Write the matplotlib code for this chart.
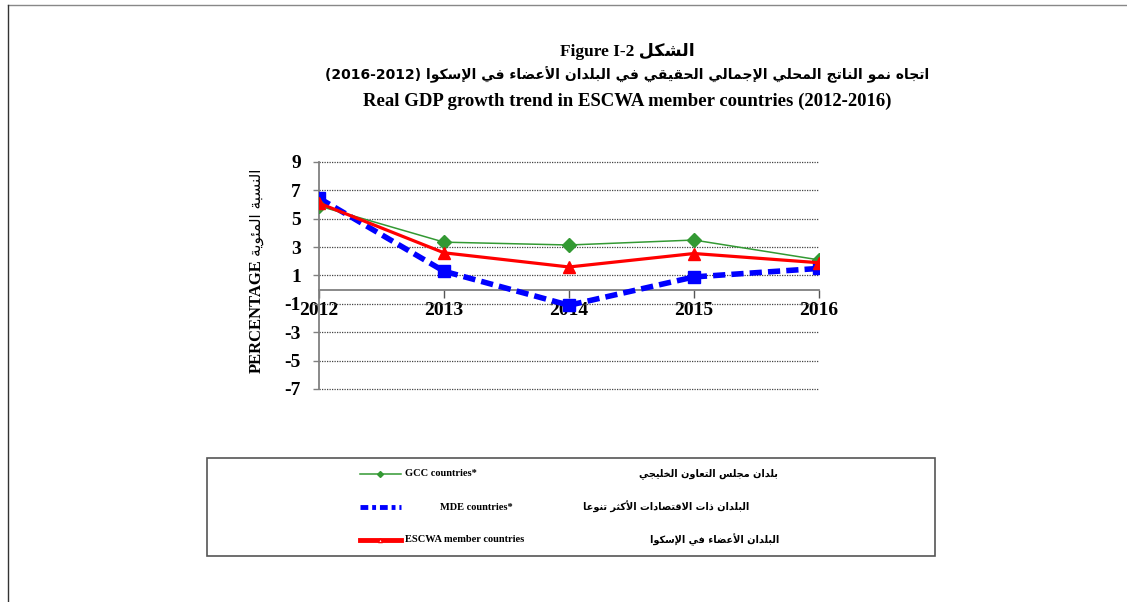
import matplotlib
matplotlib.use("Agg")
import matplotlib.pyplot as plt
from matplotlib.lines import Line2D
from matplotlib.patches import Rectangle

# data
years = [2012, 2013, 2014, 2015, 2016]
gcc = [5.9, 3.35, 3.15, 3.5, 2.1]
mde = [6.45, 1.3, -1.1, 0.9, 1.5]
escwa = [6.1, 2.6, 1.6, 2.55, 1.9]
yticks = [-7, -5, -3, -1, 1, 3, 5, 7, 9]

series_en = ["GCC countries*", "MDE countries*", "ESCWA member countries"]
series_ar = ["بلدان مجلس التعاون الخليجي",
             "البلدان ذات الاقتصادات الأكثر تنوعا",
             "البلدان الأعضاء في الإسكوا"]

title_ar_1 = "الشكل"
title_ar_2 = "اتجاه نمو الناتج المحلي الإجمالي الحقيقي في البلدان الأعضاء في الإسكوا"
ylabel_ar = "النسبة المئوية"

# --- minimal arabic shaping (no reshaper lib available) ---
# (letter, first presentation form, number of forms: iso, fin, ini, med)
_table = [("ء", 0xFE80, 1), ("آ", 0xFE81, 2), ("أ", 0xFE83, 2), ("ؤ", 0xFE85, 2),
          ("إ", 0xFE87, 2), ("ئ", 0xFE89, 4), ("ا", 0xFE8D, 2), ("ب", 0xFE8F, 4),
          ("ة", 0xFE93, 2), ("ت", 0xFE95, 4), ("ث", 0xFE99, 4), ("ج", 0xFE9D, 4),
          ("ح", 0xFEA1, 4), ("خ", 0xFEA5, 4), ("د", 0xFEA9, 2), ("ذ", 0xFEAB, 2),
          ("ر", 0xFEAD, 2), ("ز", 0xFEAF, 2), ("س", 0xFEB1, 4), ("ش", 0xFEB5, 4),
          ("ص", 0xFEB9, 4), ("ض", 0xFEBD, 4), ("ط", 0xFEC1, 4), ("ظ", 0xFEC5, 4),
          ("ع", 0xFEC9, 4), ("غ", 0xFECD, 4), ("ف", 0xFED1, 4), ("ق", 0xFED5, 4),
          ("ك", 0xFED9, 4), ("ل", 0xFEDD, 4), ("م", 0xFEE1, 4), ("ن", 0xFEE5, 4),
          ("ه", 0xFEE9, 4), ("و", 0xFEED, 2), ("ى", 0xFEEF, 2), ("ي", 0xFEF1, 4),
          ("لآ", 0xFEF5, 2), ("لأ", 0xFEF7, 2), ("لإ", 0xFEF9, 2), ("لا", 0xFEFB, 2)]
FORMS = {ch: [chr(b + i) for i in range(n)] for ch, b, n in _table}


def shape(s):
    chars = []
    i = 0
    while i < len(s):
        if s[i] == "ل" and i + 1 < len(s) and ("ل" + s[i + 1]) in FORMS:
            chars.append("ل" + s[i + 1])
            i += 2
        else:
            chars.append(s[i])
            i += 1
    out = []
    for k, c in enumerate(chars):
        if c not in FORMS:
            out.append(c)
            continue
        f = FORMS[c]
        prev = chars[k - 1] if k > 0 else None
        nxt = chars[k + 1] if k + 1 < len(chars) else None
        jp = prev in FORMS and len(FORMS[prev]) == 4
        jn = len(f) == 4 and nxt in FORMS and len(FORMS[nxt]) > 1
        if jp and jn:
            out.append(f[3])
        elif jp and len(f) > 1:
            out.append(f[1])
        elif jn:
            out.append(f[2])
        else:
            out.append(f[0])
    return "".join(out)[::-1]


SERIF = "Liberation Serif"
ARFONT = "DejaVu Sans"
CX = 627 / 1127  # centre of the title block

fig = plt.figure(figsize=(11.27, 6.02), dpi=100)
fig.patch.set_facecolor("white")

# page border lines
fig.add_artist(Line2D([8 / 1127, 1.0], [1 - 5 / 602] * 2, color="#888888", lw=1.0))
fig.add_artist(Line2D([8 / 1127] * 2, [0, 1 - 5 / 602], color="#333333", lw=1.0))

ax = fig.add_axes([319 / 1127, 1 - 389 / 602, 500 / 1127, 227 / 602])
# x axis sits on zero (set before tick labels, it resets the ticks)
ax.spines["bottom"].set_position(("data", 0))

ax.plot(years, mde, color="#0000FF", lw=4, linestyle=(0, (2.2, 1.1)),
        marker="s", markersize=8, zorder=3)
ax.plot(years, gcc, color="#339933", lw=1.1, marker="D", markersize=7, zorder=4)
ax.plot(years, escwa, color="#FF0000", lw=2.3, marker="^", markersize=8, zorder=5)

ax.set_xlim(years[0], years[-1])
ax.set_ylim(-7, 9)
ax.set_yticks(yticks)
ax.set_xticks(years)
ax.set_yticklabels([str(v) for v in yticks], fontfamily=SERIF, fontweight="bold", fontsize=14)
ax.set_xticklabels([str(v) for v in years], fontfamily=SERIF, fontweight="bold", fontsize=14)
ax.grid(axis="y", color="#444444", linestyle=(0, (1, 1)), lw=0.9)
for gl in ax.get_ygridlines():
    gl.set_clip_on(False)
ax.set_axisbelow(True)

for s in ["top", "right"]:
    ax.spines[s].set_visible(False)
ax.spines["bottom"].set_color("#808080")
ax.spines["left"].set_color("#808080")
ax.spines["bottom"].set_linewidth(1.3)
ax.spines["left"].set_linewidth(1.3)
ax.tick_params(axis="y", length=4, width=1, color="#808080", pad=9)
ax.tick_params(axis="x", length=6, width=1, color="#555555", pad=3)

# titles
fig.text(CX, 1 - 51 / 602, "Figure I-2 " + shape(title_ar_1), ha="center", va="center",
         fontsize=12.5, fontweight="bold", family=[SERIF, ARFONT])
fig.text(CX, 1 - 75 / 602, "(2016-2012) " + shape(title_ar_2), ha="center", va="center",
         fontsize=10, fontweight="bold", family=ARFONT)
fig.text(CX, 1 - 101 / 602,
         "Real GDP growth trend in ESCWA member countries (2012-2016)",
         ha="center", va="center", fontsize=13.5, fontweight="bold", family=SERIF)

# y label: english + arabic
fig.text(257 / 1127, 1 - 316 / 602, "PERCENTAGE", rotation=90, ha="center", va="center",
         fontsize=12, fontweight="bold", family=SERIF)
fig.text(257 / 1127, 1 - 212 / 602, shape(ylabel_ar), rotation=90, ha="center", va="center",
         fontsize=11, family=ARFONT)

# legend box
fig.add_artist(Rectangle((207 / 1127, 1 - 556 / 602), 728 / 1127, 98 / 602,
                         transform=fig.transFigure, fill=False, ec="#555555", lw=1.2))

styles = [dict(color="#339933", lw=1.1, marker="D", markersize=3, markevery=[1]),
          dict(color="#0000FF", lw=3.5, linestyle=(0, (1.6, 0.8, 0.8, 0.8))),
          dict(color="#FF0000", lw=3.5, marker="^", markersize=3, mfc="white",
               markevery=[1])]
rows = [474, 507, 540]
en_x = [405, 440, 405]
ar_x = [778, 749, 779]
for i in range(3):
    yy = 1 - rows[i] / 602
    fig.add_artist(Line2D([360 / 1127, 380 / 1127, 401 / 1127], [yy, yy, yy],
                          transform=fig.transFigure, **styles[i]))
    fig.text(en_x[i] / 1127, yy, series_en[i], ha="left", va="center",
             fontsize=7.5, fontweight="bold", family=SERIF)
    fig.text(ar_x[i] / 1127, yy, shape(series_ar[i]), ha="right", va="center",
             fontsize=7, fontweight="bold", family=ARFONT)

fig.savefig("out.png", dpi=100)
